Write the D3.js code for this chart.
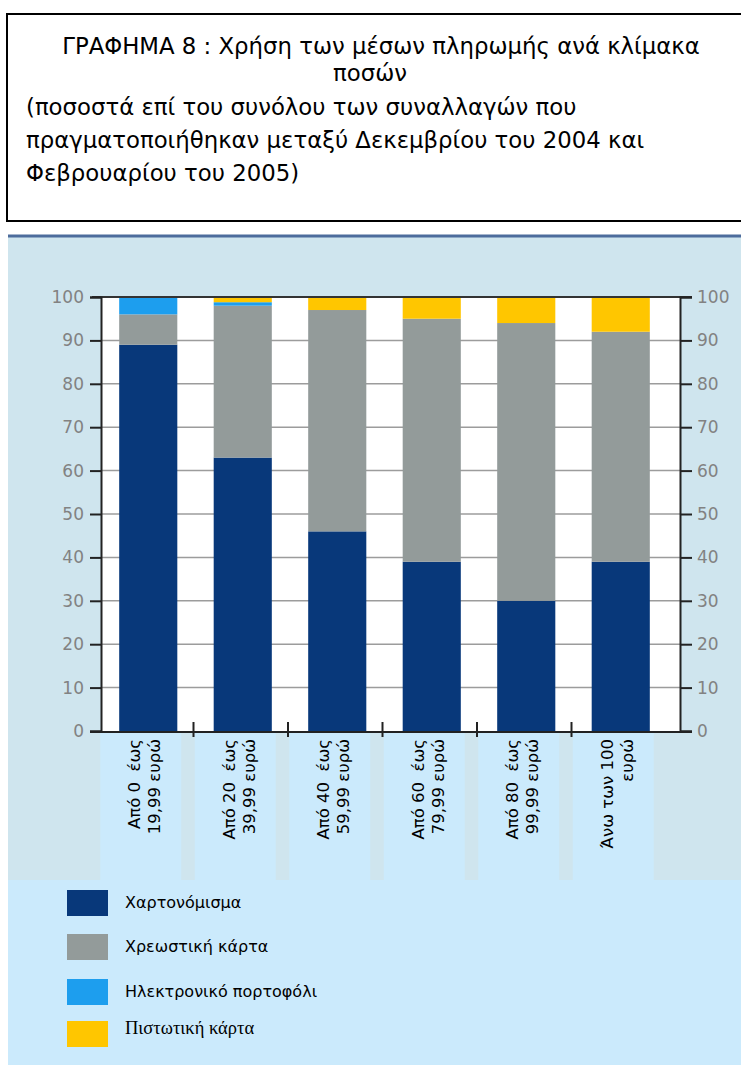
<!DOCTYPE html>
<html>
<head>
<meta charset="utf-8">
<script src="https://cdn.jsdelivr.net/npm/d3@7"></script>
<style>
  body { margin: 0; background: #fff; }
  svg { display: block; }
</style>
</head>
<body>
<div id="chart"></div>
<script>
// categories (two lines each, drawn rotated)
const labelLine1 = ["Από 0  έως", "Από 20  έως", "Από 40  έως", "Από 60  έως", "Από 80  έως", "Άνω των 100"];
const labelLine2 = ["19,99 ευρώ", "39,99 ευρώ", "59,99 ευρώ", "79,99 ευρώ", "99,99 ευρώ", "ευρώ"];

// series values, % of transactions
const cash    = [89, 63, 46, 39, 30, 39];
const debit   = [7, 35, 51, 56, 64, 53];
const ewallet = [4, 0.8, 0, 0, 0, 0];
const credit  = [0, 1.2, 3, 5, 6, 8];

const seriesNames = ["Χαρτονόμισμα", "Χρεωστική κάρτα", "Ηλεκτρονικό πορτοφόλι", "Πιστωτική κάρτα"];
const yTicks = [0, 10, 20, 30, 40, 50, 60, 70, 80, 90, 100];

const colors = ["#08387a", "#939b9a", "#1d9eee", "#ffc600"];

const W = 741, H = 1070;
const plot = { left: 101, right: 680, top: 297, bottom: 731 };

const svg = d3.select('#chart').append('svg')
    .attr('width', W)
    .attr('height', H);

// title box
svg.append('rect')
    .attr('x', 7).attr('y', 14)
    .attr('width', 760).attr('height', 207)
    .attr('fill', '#fff')
    .attr('stroke', '#000')
    .attr('stroke-width', 2);

const titleFont = "'DejaVu Sans', sans-serif";
const titleLines = [
    { t: "ΓΡΑΦΗΜΑ 8 : Χρήση των μέσων πληρωμής ανά κλίμακα", x: 381, y: 54, a: 'middle' },
    { t: "ποσών", x: 370, y: 81, a: 'middle' },
    { t: "(ποσοστά επί του συνόλου των συναλλαγών που", x: 26, y: 115, a: 'start' },
    { t: "πραγματοποιήθηκαν μεταξύ Δεκεμβρίου του 2004 και", x: 26, y: 148, a: 'start' },
    { t: "Φεβρουαρίου του 2005)", x: 26, y: 181, a: 'start' }
];
svg.selectAll('text.title')
    .data(titleLines)
    .enter()
    .append('text')
    .attr('class', 'title')
    .attr('x', d => d.x)
    .attr('y', d => d.y)
    .attr('text-anchor', d => d.a)
    .attr('font-family', titleFont)
    .attr('font-size', 22.8)
    .attr('fill', '#000')
    .text(d => d.t);

// chart background + top rule
svg.append('rect')
    .attr('x', 8).attr('y', 237)
    .attr('width', W - 8).attr('height', 645)
    .attr('fill', '#cfe5ee');
svg.append('line')
    .attr('x1', 8).attr('x2', W)
    .attr('y1', 236).attr('y2', 236)
    .attr('stroke', '#4d6c9c')
    .attr('stroke-width', 3);

// legend panel
svg.append('rect')
    .attr('x', 8).attr('y', 880)
    .attr('width', W - 8).attr('height', 185)
    .attr('fill', '#cbeafc');

// scales
const xScale = d3.scaleBand()
    .domain(d3.range(cash.length))
    .range([101, 668])
    .paddingInner(0.385)
    .paddingOuter(0.1925);

const yScale = d3.scaleLinear()
    .domain([0, 100])
    .range([plot.bottom, plot.top]);

// plot area
svg.append('rect')
    .attr('x', plot.left).attr('y', plot.top)
    .attr('width', plot.right - plot.left)
    .attr('height', plot.bottom - plot.top)
    .attr('fill', '#fff');

// gridlines
svg.append('g')
    .selectAll('line')
    .data(yTicks.filter(d => d > 0 && d < 100))
    .enter()
    .append('line')
    .attr('x1', plot.left).attr('x2', plot.right)
    .attr('y1', d => yScale(d)).attr('y2', d => yScale(d))
    .attr('stroke', '#9c9c9c')
    .attr('stroke-width', 1.5);

// stacked bars
const table = cash.map((v, i) => ({ i, a: cash[i], b: debit[i], c: ewallet[i], d: credit[i] }));
const stacked = d3.stack().keys(['a', 'b', 'c', 'd'])(table);

svg.append('g')
    .selectAll('g')
    .data(stacked)
    .enter()
    .append('g')
    .attr('fill', (d, k) => colors[k])
    .selectAll('rect')
    .data(d => d)
    .enter()
    .append('rect')
    .attr('x', d => xScale(d.data.i))
    .attr('width', xScale.bandwidth())
    .attr('y', d => yScale(d[1]))
    .attr('height', d => yScale(d[0]) - yScale(d[1]));

// top border and bottom axis line
svg.append('line')
    .attr('x1', 92).attr('x2', 692)
    .attr('y1', yScale(100)).attr('y2', yScale(100))
    .attr('stroke', '#333').attr('stroke-width', 2);
svg.append('line')
    .attr('x1', 90).attr('x2', 692)
    .attr('y1', 732).attr('y2', 732)
    .attr('stroke', '#222').attr('stroke-width', 2);

const yAxisL = d3.axisLeft(yScale).tickValues(yTicks).tickSize(11).tickPadding(6);
const yAxisR = d3.axisRight(yScale).tickValues(yTicks).tickSize(12).tickPadding(5);

const gl = svg.append('g')
    .attr('transform', `translate(${plot.left},0)`)
    .call(yAxisL);
const gr = svg.append('g')
    .attr('transform', `translate(${plot.right},0)`)
    .call(yAxisR);

[gl, gr].forEach(g => {
    g.select('.domain').attr('stroke', '#222').attr('stroke-width', 2);
    g.selectAll('.tick line').attr('stroke', '#222').attr('stroke-width', 2);
    g.selectAll('.tick text')
        .attr('font-family', "'DejaVu Sans', sans-serif")
        .attr('font-size', 17)
        .attr('fill', '#828282');
});

// category label panels
svg.append('g')
    .selectAll('rect')
    .data(d3.range(cash.length))
    .enter()
    .append('rect')
    .attr('x', i => xScale(i) + xScale.bandwidth() / 2 - 48)
    .attr('y', 733)
    .attr('width', 81)
    .attr('height', 147)
    .attr('fill', '#cbeafc');

// cross ticks between categories
const step = xScale.step();
svg.append('g')
    .selectAll('line')
    .data(d3.range(1, cash.length))
    .enter()
    .append('line')
    .attr('x1', i => 101 + i * step - 2)
    .attr('x2', i => 101 + i * step - 2)
    .attr('y1', 722).attr('y2', 737)
    .attr('stroke', '#222').attr('stroke-width', 2);

// rotated category labels
const catFont = "'DejaVu Sans', sans-serif";
const cat = svg.append('g')
    .selectAll('g')
    .data(d3.range(cash.length))
    .enter()
    .append('g')
    .attr('transform', i => `translate(${xScale(i) + xScale.bandwidth() / 2},739) rotate(-90)`);

cat.append('text')
    .attr('x', 0).attr('y', -8)
    .attr('text-anchor', 'end')
    .attr('font-family', catFont)
    .attr('font-size', 16.5)
    .attr('fill', '#000')
    .style('white-space', 'pre')
    .text(i => labelLine1[i]);
cat.append('text')
    .attr('x', 0).attr('y', 12)
    .attr('text-anchor', 'end')
    .attr('font-family', catFont)
    .attr('font-size', 16.5)
    .attr('fill', '#000')
    .style('white-space', 'pre')
    .text(i => labelLine2[i]);

// legend
const legendY = [890, 934, 979, 1021];
const legend = svg.append('g')
    .selectAll('g')
    .data(seriesNames)
    .enter()
    .append('g')
    .attr('transform', (d, k) => `translate(67,${legendY[k]})`);

legend.append('rect')
    .attr('width', 41).attr('height', 26)
    .attr('fill', (d, k) => colors[k]);

legend.append('text')
    .attr('x', 58)
    .attr('y', (d, k) => k === 3 ? 13 : 18)
    .attr('font-family', (d, k) => k === 3 ? "'Liberation Serif', serif" : "'DejaVu Sans', sans-serif")
    .attr('font-size', (d, k) => k === 3 ? 18.5 : 16)
    .attr('fill', '#000')
    .text(d => d);
</script>
</body>
</html>
